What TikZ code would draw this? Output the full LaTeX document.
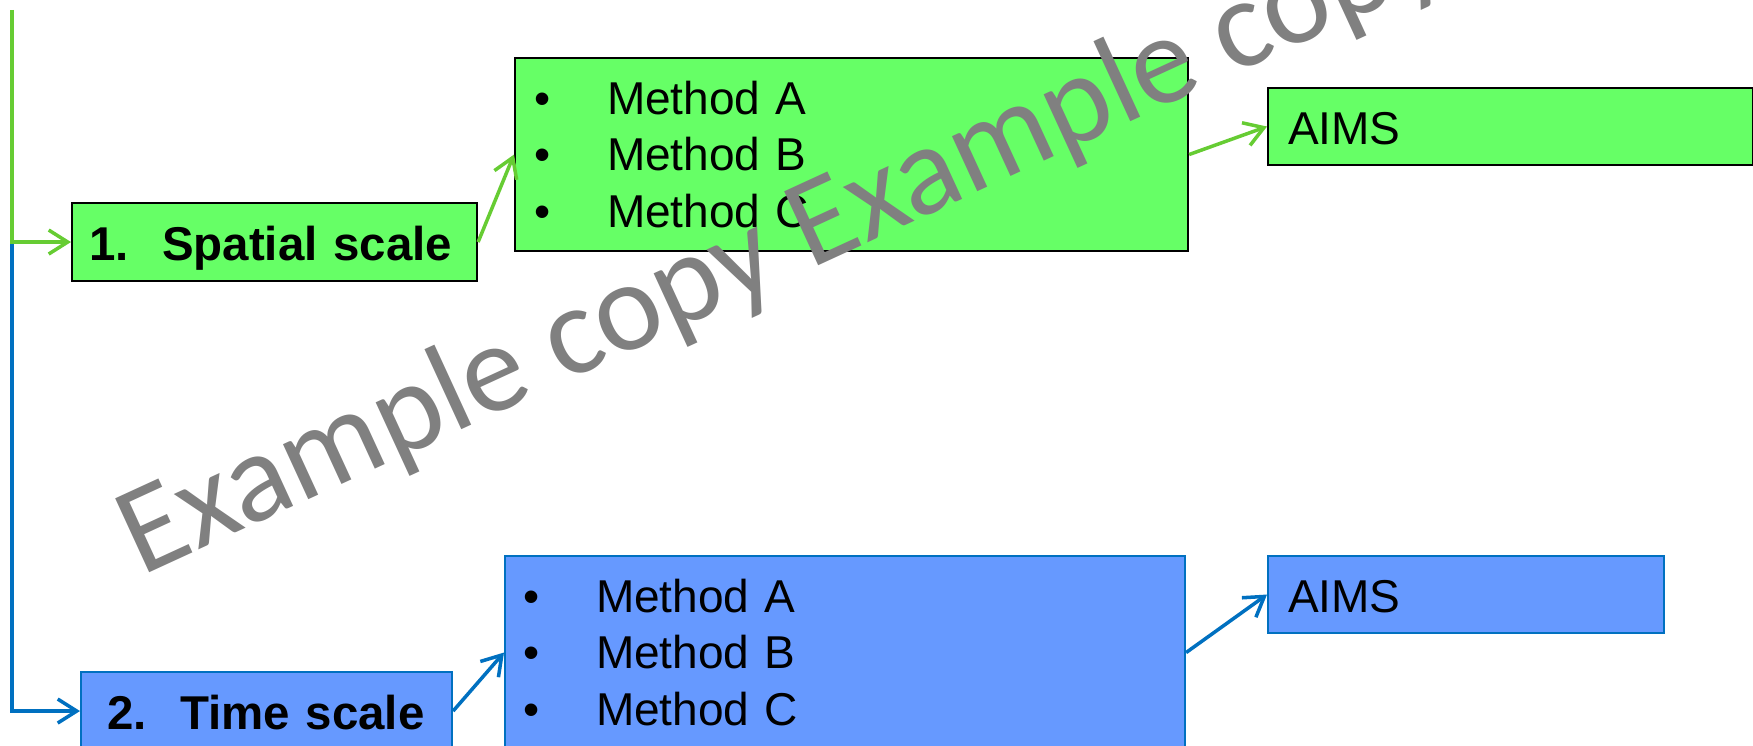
\documentclass[tikz,border=0pt]{standalone}
\usepackage{fontspec}
\setmainfont{Liberation Sans}
\newfontfamily\wmfont{Carlito}
\usetikzlibrary{arrows.meta}
\definecolor{boxgreen}{HTML}{66FF66}
\definecolor{linegreen}{HTML}{66CC33}
\definecolor{boxblue}{HTML}{6699FF}
\definecolor{lineblue}{HTML}{0070C0}
\definecolor{wmgray}{HTML}{808080}

\begin{document}
\begin{tikzpicture}[
  >={Straight Barb[length=1.9mm,width=2.4mm]},
  scale box/.style={rectangle,draw,line width=0.6pt,anchor=north west,inner ysep=0pt,align=left,
    font=\fontsize{13.5pt}{16.2pt}\selectfont\bfseries,text height=5.7mm,text depth=2.1mm},
  method box/.style={rectangle,draw,line width=0.6pt,anchor=north west,inner xsep=1.9mm,inner ysep=0pt,align=left,
    font=\fontsize{13.1pt}{16.2pt}\selectfont,text height=5.6mm,text depth=13.7mm},
  aims box/.style={method box,inner xsep=2mm,text depth=2.1mm},
  green fill/.style={fill=boxgreen,draw=black},
  blue fill/.style={fill=boxblue,draw=lineblue},
  green link/.style={->,draw=linegreen,line width=1pt},
  blue link/.style={->,draw=lineblue,line width=1pt},
  watermark/.style={font=\wmfont\fontsize{36.1pt}{40pt}\selectfont,text=wmgray,inner sep=0pt,anchor=base west,rotate=24.7}]

  \useasboundingbox (0,0) rectangle (17.53,7.46);

  % spatial branch
  \node[scale box,green fill,inner xsep=1.7mm,text width=37.1mm] (spatial) at (0.71,5.44)
    {\makebox[7.3mm][l]{1.}Spatial scale};
  \node[method box,green fill,text width=63.5mm] (spatialmeth) at (5.14,6.89)
    {\makebox[7.3mm][l]{\textbullet}Method A\\ \makebox[7.3mm][l]{\textbullet}Method B\\ \makebox[7.3mm][l]{\textbullet}Method C};
  \node[aims box,green fill,text width=44.5mm] (spatialaims) at (12.67,6.59) {AIMS};

  % time branch
  \node[scale box,blue fill,inner xsep=2.6mm,text width=31.9mm] (time) at (0.80,0.75)
    {\makebox[7.3mm][l]{2.}Time scale};
  \node[method box,blue fill,inner xsep=1.8mm,text width=64.4mm] (timemeth) at (5.04,1.91)
    {\makebox[7.3mm][l]{\textbullet}Method A\\ \makebox[7.3mm][l]{\textbullet}Method B\\ \makebox[7.3mm][l]{\textbullet}Method C};
  \node[aims box,blue fill,text width=35.6mm] (timeaims) at (12.67,1.91) {AIMS};

  % connectors
  \coordinate (top) at (0.12,7.36);
  \coordinate (fork) at (top |- spatial);
  \draw[blue link] (fork) |- (time);
  \draw[green link] (top) |- (spatial);
  \draw[green link] (spatial.east) -- (spatialmeth.west);
  \draw[green link] (spatialmeth.east) -- (spatialaims.west);
  \draw[blue link] (time.east) -- (timemeth.west);
  \draw[blue link] (timemeth.east) -- (timeaims.west);

  \node[watermark] (stamp) at (1.41,1.69) {Example copy Example copy};
\end{tikzpicture}
\end{document}
